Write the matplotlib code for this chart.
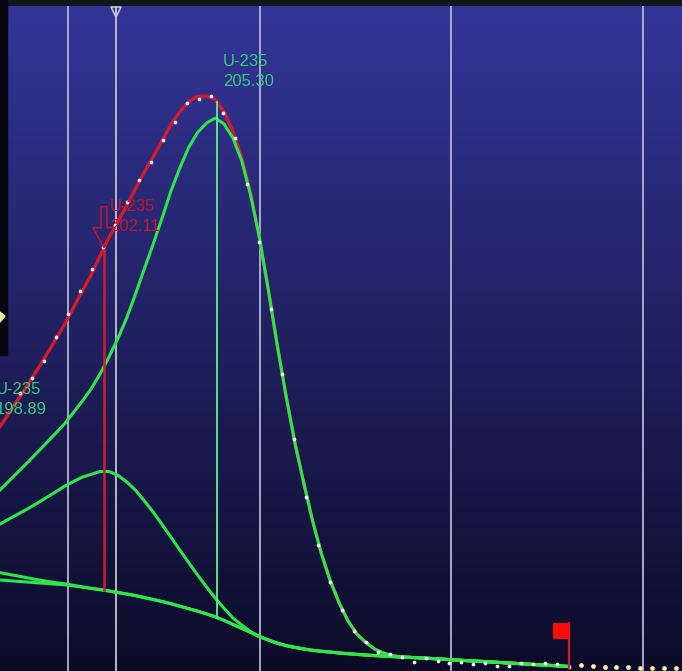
import numpy as np
import matplotlib
matplotlib.use("Agg")
import matplotlib.pyplot as plt
from matplotlib.patches import Polygon, Rectangle

# ---------------- spectrum data ----------------
# channel -> energy calibration (keV)
CAL_OFFSET = 199.738
CAL_GAIN = 0.3368
channels = np.arange(56)
channel_counts = [2780, 2930, 3100, 3340, 3570, 3800, 4020, 4240, 4460, 4690,
                  4910, 5090, 5310, 5490, 5680, 5720, 5750, 5580, 5330, 4870,
                  4290, 3620, 2970, 2320, 1740, 1260, 890, 610, 400, 290,
                  190, 170, 140, 90, 130, 100, 80, 90, 70, 80,
                  50, 50, 80, 70, 80, 70, 40, 60, 50, 40,
                  40, 40, 30, 30, 30, 30]
roi_last_channel = 46

# fitted model sampled in energy (keV)
fit_energy = [199.00, 199.25, 199.50, 199.75, 200.00, 200.25, 200.50, 200.75,
              201.00, 201.25, 201.50, 201.75, 202.00, 202.25, 202.50, 202.75,
              203.00, 203.25, 203.50, 203.75, 204.00, 204.25, 204.50, 204.75,
              205.00, 205.25, 205.50, 205.75, 206.00, 206.25, 206.50, 206.75,
              207.00, 207.25, 207.50, 207.75, 208.00, 208.25, 208.50, 208.75,
              209.00, 209.25, 209.50, 209.75, 210.00, 210.25, 210.50, 210.75,
              211.00, 211.50, 212.00, 212.50, 213.00, 213.50, 214.00, 214.50,
              215.00, 215.24]
baseline = [915, 908, 901, 895, 888, 881, 875, 868, 862, 851, 839, 826, 814,
            800, 785, 770, 754, 734, 715, 695, 673, 648, 623, 599, 571, 542,
            506, 466, 426, 386, 344, 310, 278, 254, 236, 220, 207, 197, 189,
            180, 173, 166, 160, 154, 149, 144, 140, 136, 132, 122, 111, 101,
            91, 81, 70, 60, 50, 45]
net_198 = [85, 70, 60, 50, 40, 30, 22, 15, 10, 5, 2] + [0] * 47
net_202 = [522, 577, 633, 687, 743, 802, 863, 924, 986, 1044, 1100, 1141,
           1181, 1195, 1173, 1121, 1054, 967, 874, 770, 665, 562, 461, 362,
           272, 186, 121, 64, 33, 8] + [0] * 28
net_205 = [835, 929, 1025, 1119, 1215, 1313, 1412, 1511, 1611, 1735, 1861,
           1996, 2158, 2340, 2539, 2759, 3016, 3289, 3555, 3835, 4127, 4382,
           4612, 4785, 4907, 4988, 4964, 4864, 4674, 4374, 3986, 3500, 2982,
           2496, 2044, 1660, 1293, 973, 711, 500, 327, 204, 125, 66, 31,
           10] + [0] * 12

peak_energy = [198.89, 202.11, 205.30]
peak_nuclide = ["U-235", "U-235", "U-235"]
selected_peak = 1
grid_energy = [201.09, 206.51, 211.91, 217.33]
cursor_energy = 202.45
roi_end_energy = 215.24

# ---------------- styling ----------------
W_PX, H_PX = 682, 671
TOP_BAR = 6
X0, X1 = 199.174, 218.428
Y0, Y1 = 0, 6650
KEV_PX = (X1 - X0) / W_PX
CNT_PX = (Y1 - Y0) / (H_PX - TOP_BAR)

GREEN = "#2de64b"
RED = "#d41a2c"
LABEL_GREEN = "#2fcf7c"
LABEL_RED = "#c8142c"
GRID = "#b4b4d2"
FONT = "Liberation Sans"

fig = plt.figure(figsize=(W_PX / 100, H_PX / 100), dpi=100)
fig.patch.set_facecolor("#12171b")
ax = fig.add_axes([0, 0, 1, (H_PX - TOP_BAR) / H_PX])
ax.set_xlim(X0, X1)
ax.set_ylim(Y0, Y1)
ax.axis("off")

# vertical background gradient
top = np.array([52, 53, 152]) / 255
bot = np.array([12, 12, 40]) / 255
t = np.linspace(0, 1, 300)[:, None, None]
grad = top * (1 - t) + bot * t
ax.imshow(grad, extent=[0, 1, 0, 1], transform=ax.transAxes,
          aspect="auto", zorder=0, interpolation="bilinear")

# grid and cursor
for g in grid_energy:
    ax.axvline(g, color=GRID, lw=1.3, zorder=1)
ax.axvline(cursor_energy, color="#c4c4cc", lw=1.3, zorder=1)
ax.plot([cursor_energy], [Y1 - 6 * CNT_PX], marker="v", ms=7, mfc="none",
        mec="#c4c4cc", mew=1.2, zorder=7, clip_on=False)

fe = np.asarray(fit_energy, dtype=float)
bl = np.asarray(baseline, dtype=float)
n198 = np.asarray(net_198, dtype=float)
n202 = np.asarray(net_202, dtype=float)
n205 = np.asarray(net_205, dtype=float)
total = bl + n198 + n202 + n205

# total fit (red) beneath the peak components (green)
ax.plot(fe, total, color=RED, lw=2.4, zorder=2, solid_joinstyle="round")
for net in (n205, n202, n198):
    ax.plot(fe, bl + net, color=GREEN, lw=2.2, zorder=3, solid_joinstyle="round")
ax.plot(fe, bl, color=GREEN, lw=2.2, zorder=3, solid_joinstyle="round")


def total_at(e):
    return np.interp(e, fe, total)


def base_at(e):
    return np.interp(e, fe, bl)


# centroid markers
e_sel = peak_energy[selected_peak]
ax.plot([e_sel, e_sel], [base_at(e_sel), total_at(e_sel)], color=RED, lw=1.8, zorder=4)
e_main = peak_energy[2]
ax.plot([e_main, e_main], [base_at(e_main), total_at(e_main)], color="#5ee08a",
        lw=1.4, zorder=4)

# measured channels
energy = CAL_OFFSET + CAL_GAIN * channels
cts = np.asarray(channel_counts, dtype=float)
inside = channels <= roi_last_channel
ax.plot(energy[inside], cts[inside], "o", ms=2.7, color="#f2f2ff", mew=0, zorder=6)
ax.plot(energy[~inside], cts[~inside], "o", ms=3.4, color="#fff3ad", mew=0, zorder=6)

# peak labels
label_dy = {0: 21, 1: 17, 2: 16}
for i, (e, nuc) in enumerate(zip(peak_energy, peak_nuclide)):
    col = LABEL_RED if i == selected_peak else LABEL_GREEN
    y = total_at(e)
    dy = label_dy[i]
    ax.annotate(f"{e:.2f}", xy=(e, y), xytext=(6, dy), textcoords="offset pixels",
                ha="left", va="baseline", color=col, fontsize=12,
                family=FONT, zorder=8, annotation_clip=False)
    ax.annotate(nuc, xy=(e, y), xytext=(6, dy + 20), textcoords="offset pixels",
                ha="left", va="baseline", color=col, fontsize=12,
                family=FONT, zorder=8, annotation_clip=False)

# hollow arrow pointing at the selected peak
tip_x, tip_y = e_sel, total_at(e_sel)
arrow_px = [(0, 0), (11, 20), (3, 20), (3, 41), (-3, 41), (-3, 20), (-11, 20)]
arrow = Polygon([(tip_x + dx * KEV_PX, tip_y + dy * CNT_PX) for dx, dy in arrow_px],
                closed=True, fill=False, ec=LABEL_RED, lw=1.1, zorder=8)
ax.add_patch(arrow)

# ROI end flag
flag_base = base_at(roi_end_energy) - 15
ax.plot([roi_end_energy, roi_end_energy], [flag_base, flag_base + 45 * CNT_PX],
        color=RED, lw=1.6, zorder=7)
ax.add_patch(Rectangle((roi_end_energy - 16 * KEV_PX, flag_base + 29 * CNT_PX),
                       16 * KEV_PX, 16 * CNT_PX, color="#ff0a0a", zorder=7, lw=0))

# dark side panel at the left edge
fig.patches.append(Rectangle((0, H_PX - 355), 7, 355, transform=None,
                             color="#05050e", zorder=10))
fig.patches.append(Polygon([(0, 349), (5, 355), (0, 359)], closed=True,
                           transform=None, color="#f2eaa0", zorder=11))

fig.savefig("out.png", dpi=100, facecolor=fig.get_facecolor())
